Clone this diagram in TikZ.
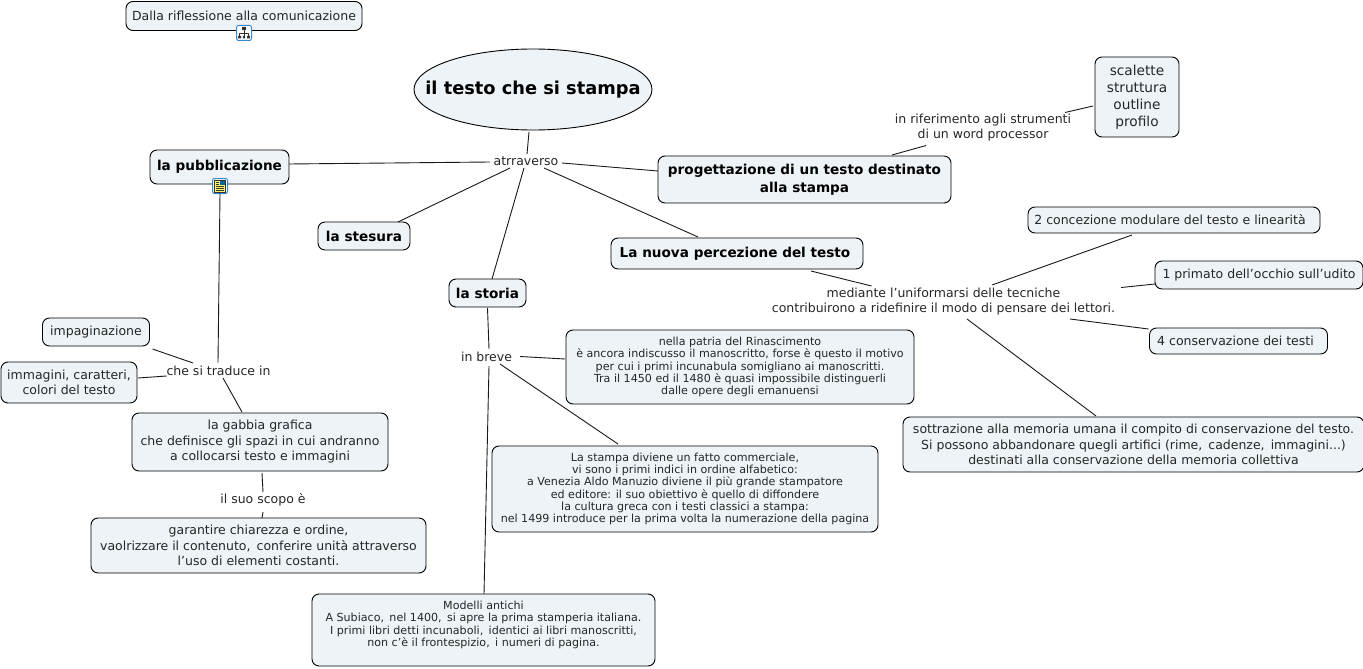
\documentclass[tikz,border=0pt]{standalone}
\usepackage{fontspec}
\setmainfont{DejaVu Sans}
\usepackage{xcolor}
\usetikzlibrary{shapes.geometric}
\definecolor{boxfill}{HTML}{EDF3F6}
\definecolor{iconblue}{HTML}{3A86D0}
\tikzset{
  wh/.style 2 args={minimum width=#1pt, minimum height=#2pt},
  basenode/.style={inner sep=0pt, outer sep=0pt, align=center, text=black!85},
  txt/.style={basenode, font=\fontsize{12.5}{15.5}\selectfont},
  box/.style={txt, draw=black, line width=0.9pt, fill=boxfill, rounded corners=7pt},
  bigbox/.style={box, font=\bfseries\fontsize{13.6}{17.5}\selectfont, text=black},
  smallbox/.style={box, font=\fontsize{11.1}{12.3}\selectfont},
  iconbox/.style={draw=iconblue, line width=1pt, fill=white, rounded corners=2pt, minimum size=15pt, inner sep=0pt, outer sep=0pt},
  link/.style={draw=black!90, line width=0.9pt},
}
\begin{document}
\begin{tikzpicture}[x=1pt,y=-1pt]
\useasboundingbox (0,0) rectangle (1363,669);
% central topic
\node[basenode, ellipse, draw=black, line width=0.9pt, fill=boxfill, minimum width=238pt, minimum height=81pt,
  label={[font=\bfseries\fontsize{17.8}{22}\selectfont, text=black]center:il testo che si stampa}] (root) at (533,89.5) {};
\node[box, wh={236}{29}] (riflessione) at (244,16) {Dalla riflessione alla comunicazione};
\node[iconbox] (iconmap) at (244,33) {};
\draw[black!80, line width=.7pt] ([yshift=4pt]iconmap.center) -- ([yshift=-3pt]iconmap.center)
  ([shift={(-4.5pt,-3pt)}]iconmap.center) -- ([shift={(-4.5pt,0pt)}]iconmap.center) -- ([shift={(4.5pt,0pt)}]iconmap.center) -- ([shift={(4.5pt,-3pt)}]iconmap.center);
\fill[black!80] ([shift={(-2pt,6pt)}]iconmap.center) rectangle ([shift={(2pt,3pt)}]iconmap.center)
  ([shift={(-6pt,-3pt)}]iconmap.center) rectangle ([shift={(-3pt,-5.5pt)}]iconmap.center)
  ([shift={(-1.2pt,-3pt)}]iconmap.center) rectangle ([shift={(1.2pt,-5.5pt)}]iconmap.center)
  ([shift={(3pt,-3pt)}]iconmap.center) rectangle ([shift={(6pt,-5.5pt)}]iconmap.center);
\node[txt, wh={66}{14}] (attr) at (526,161) {atrraverso};
% first level
\node[bigbox, wh={139}{34}] (pubbl) at (219.5,167) {la pubblicazione};
\node[iconbox] (icondoc) at (220,186) {};
\fill[yellow!60!white] ([shift={(-5.5pt,6pt)}]icondoc.center) rectangle ([shift={(5.5pt,-6pt)}]icondoc.center);
\draw[black!80, line width=.7pt] ([shift={(-5.5pt,6pt)}]icondoc.center) rectangle ([shift={(5.5pt,-6pt)}]icondoc.center);
\fill[blue!60!green] ([shift={(0pt,5pt)}]icondoc.center) rectangle ([shift={(4.5pt,1pt)}]icondoc.center);
\draw[black!80, line width=.6pt] ([shift={(-4pt,4pt)}]icondoc.center) -- ([shift={(-1pt,4pt)}]icondoc.center)
  ([shift={(-4pt,2pt)}]icondoc.center) -- ([shift={(-1pt,2pt)}]icondoc.center)
  ([shift={(-4pt,0pt)}]icondoc.center) -- ([shift={(4pt,0pt)}]icondoc.center)
  ([shift={(-4pt,-2pt)}]icondoc.center) -- ([shift={(4pt,-2pt)}]icondoc.center)
  ([shift={(-4pt,-4pt)}]icondoc.center) -- ([shift={(4pt,-4pt)}]icondoc.center);
\node[bigbox, wh={92}{28}] (stesura) at (364,236) {la stesura};
\node[bigbox, wh={77}{28}] (storia) at (487.5,293) {la storia};
\node[bigbox, wh={252}{31}] (nuova) at (737,253.5) {La nuova percezione del testo\hspace{4pt}};
\node[bigbox, wh={293}{47}] (prog) at (804.5,179.5) {progettazione di un testo destinato\\alla stampa};
% right side
\node[txt, wh={174}{30}] (riferimento) at (983,127.5) {in riferimento agli strumenti\\di un word processor};
\node[box, wh={84}{80}, font=\fontsize{13.7}{17}\selectfont] (scalette) at (1137,97) {scalette\\struttura\\outline\\profilo};
\node[txt, wh={343}{31}] (mediante) at (943.5,301.5) {mediante l’uniformarsi delle tecniche\\contribuirono a ridefinire il modo di pensare dei lettori.};
\node[box, wh={292}{26}] (concezione) at (1174,220) {2 concezione modulare del testo e linearità\hspace{8pt}};
\node[box, wh={208}{28}] (primato) at (1259,275) {1 primato dell’occhio sull’udito};
\node[box, wh={178}{26}] (conservazione) at (1238.5,341) {4 conservazione dei testi\hspace{6pt}};
\node[box, wh={461}{55}] (sottrazione) at (1133.5,444.5) {sottrazione alla memoria umana il compito di conservazione del testo.\\Si possono abbandonare quegli artifici (rime,\, cadenze,\, immagini...)\\destinati alla conservazione della memoria collettiva};
% storia
\node[txt, wh={51}{15}] (breve) at (486.5,356.5) {in breve};
\node[smallbox, wh={348}{74}] (patria) at (740,367) {nella patria del Rinascimento\\è ancora indiscusso il manoscritto, forse è questo il motivo\\per cui i primi incunabula somigliano ai manoscritti.\\Tra il 1450 ed il 1480 è quasi impossibile distinguerli\\dalle opere degli emanuensi};
\node[smallbox, wh={386}{86}] (stampa) at (685,489) {La stampa diviene un fatto commerciale,\\vi sono i primi indici in ordine alfabetico:\\a Venezia Aldo Manuzio diviene il più grande stampatore\\ed editore: il suo obiettivo è quello di diffondere\\la cultura greca con i testi classici a stampa:\\nel 1499 introduce per la prima volta la numerazione della pagina};
\node[smallbox, wh={343}{72}] (modelli) at (483.5,630) {Modelli antichi\\A Subiaco,\, nel 1400,\, si apre la prima stamperia italiana.\\I primi libri detti incunaboli,\, identici ai libri manoscritti,\\non c’è il frontespizio,\, i numeri di pagina.\\\mbox{}};
% left side
\node[txt, wh={103}{15}] (traduce) at (218.5,370.5) {che si traduce in};
\node[box, wh={107}{28}] (impaginazione) at (96,332) {impaginazione};
\node[box, wh={136}{41}] (immagini) at (69,382.5) {immagini, caratteri,\\colori del testo};
\node[box, wh={256}{58}] (gabbia) at (260,442) {la gabbia grafica\\che definisce gli spazi in cui andranno\\a collocarsi testo e immagini};
\node[txt, wh={86}{16}] (scopo) at (263,500) {il suo scopo è};
\node[box, wh={335}{55}] (garantire) at (258.5,545.5) {garantire chiarezza e ordine,\\vaolrizzare il contenuto,\, conferire unità attraverso\\l’uso di elementi costanti.};
% connectors
\draw[link] ([shift={(-4pt,-2pt)}]root.south) -- ([xshift=1pt]attr.north);
\draw[link] ([shift={(-3pt,-1pt)}]attr.west) -- ([yshift=3pt]pubbl.east);
\draw[link] ([xshift=17pt]attr.south west) -- ([xshift=-12pt]stesura.north east);
\draw[link] ([xshift=-2pt]attr.south) -- ([xshift=4.5pt]storia.north);
\draw[link] ([shift={(3pt,-2pt)}]attr.east) -- ([yshift=8.5pt]prog.west);
\draw[link] ([xshift=18pt]attr.south) -- ([shift={(-39pt,1pt)}]nuova.north);
\draw[link] ([shift={(87.5pt,1pt)}]prog.north) -- ([shift={(-57pt,-3pt)}]riferimento.south);
\draw[link] ([xshift=-6pt]riferimento.north east) -- ([shift={(-2pt,-9pt)}]scalette.west);
\draw[link] ([shift={(74pt,-2pt)}]nuova.south) -- ([shift={(-72pt,0pt)}]mediante.north);
\draw[link] ([shift={(48.5pt,1pt)}]mediante.north) -- ([shift={(-42pt,-2pt)}]concezione.south);
\draw[link] ([shift={(6pt,14pt)}]mediante.east) -- ([yshift=-9pt]primato.west);
\draw[link] ([shift={(126.5pt,-2pt)}]mediante.south) -- ([shift={(-1pt,12pt)}]conservazione.west);
\draw[link] ([shift={(23.5pt,-2pt)}]mediante.south) -- ([shift={(-37.5pt,1pt)}]sottrazione.north);
\draw[link] (icondoc.south) -- ([shift={(-.5pt,.5pt)}]traduce.north);
\draw[link] ([xshift=-25.5pt]traduce.north) -- ([shift={(3pt,-3pt)}]impaginazione.south east);
\draw[link] ([yshift=-5.5pt]traduce.west) -- ([shift={(1pt,4.5pt)}]immagini.east);
\draw[link] ([xshift=4.5pt]traduce.south) -- ([shift={(-18pt,1pt)}]gabbia.north);
\draw[link] ([shift={(2pt,-2pt)}]gabbia.south) -- (scopo.north);
\draw[link] ([yshift=-4pt]scopo.south) -- ([xshift=3.5pt]garantire.north);
\draw[link] ([yshift=-1pt]storia.south) -- ([xshift=2.5pt]breve.north);
\draw[link] ([xshift=8pt]breve.east) -- ([shift={(-1pt,8pt)}]patria.west);
\draw[link] ([xshift=13.5pt]breve.south) -- ([shift={(-67pt,2pt)}]stampa.north);
\draw[link] ([shift={(2.5pt,-2pt)}]breve.south) -- ([xshift=.5pt]modelli.north);
\end{tikzpicture}
\end{document}
